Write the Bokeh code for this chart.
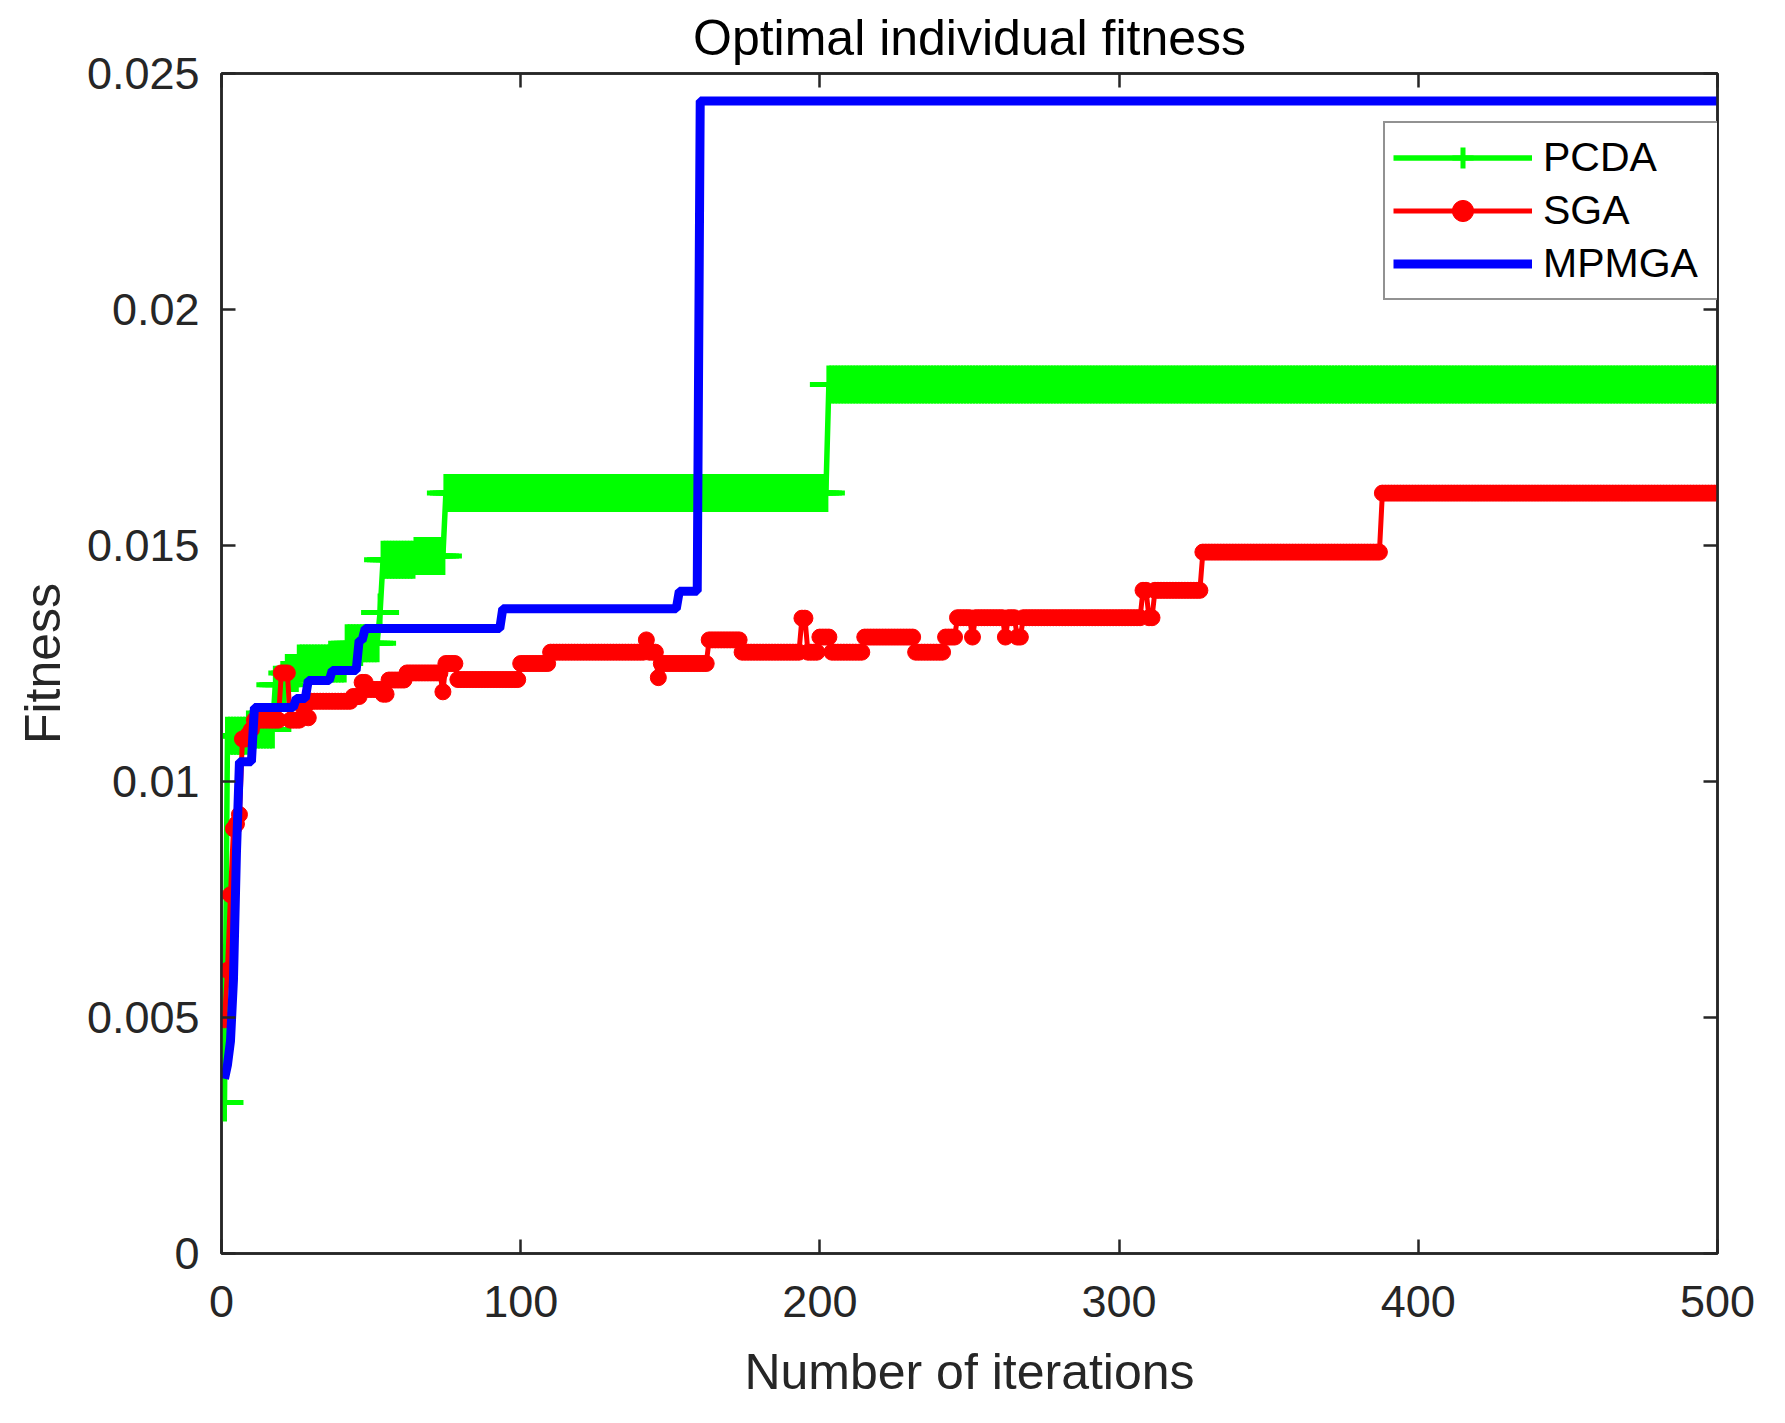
import numpy as np
from bokeh.plotting import figure
from bokeh.models import (Range1d, LinearAxis, FixedTicker, CustomJSTickFormatter,
                          Legend, LegendItem)
from bokeh.embed import file_html
from bokeh.resources import INLINE

# ---------------- data ----------------
n_iter = 500
x_ticks = [0, 100, 200, 300, 400, 500]
y_ticks = [0, 0.005, 0.01, 0.015, 0.02, 0.025]

# best-so-far fitness per iteration, given as step change points
pcda_start = [1, 2, 9, 18, 22, 26, 42, 53, 54, 65, 75, 203]
pcda_value = [0.0032, 0.01097, 0.0111, 0.01205, 0.0123, 0.0125, 0.01293,
              0.01358, 0.0147, 0.01478, 0.01611, 0.01841]

sga_start = [1, 2, 3, 4, 5, 6, 7, 9, 10, 11, 20, 23, 27, 29, 30, 44, 47, 49,
             54, 56, 62, 74, 75, 79, 100, 110, 142, 143, 146, 147, 163, 174,
             194, 196, 200, 204, 215, 232, 242, 246, 251, 252, 262, 263, 266,
             268, 308, 310, 312, 328, 388]
sga_value = [0.00495, 0.0060, 0.0076, 0.0090, 0.0091, 0.0093, 0.0109, 0.0110,
             0.0111, 0.0113, 0.0123, 0.0113, 0.0116, 0.01135, 0.0117, 0.0118,
             0.0121, 0.01195, 0.01185, 0.01215, 0.0123, 0.0119, 0.0125, 0.01216,
             0.0125, 0.01274, 0.0130, 0.01274, 0.0122, 0.0125, 0.0130, 0.01274,
             0.01346, 0.01274, 0.01306, 0.01274, 0.01306, 0.01274, 0.01306,
             0.01347, 0.01306, 0.01347, 0.01306, 0.01347, 0.01306, 0.01347,
             0.01405, 0.01347, 0.01405, 0.01486, 0.01611]

mpmga_start = [1, 2, 3, 4, 5, 6, 11, 25, 29, 37, 46, 48, 94, 153, 160]
mpmga_value = [0.0037, 0.0040, 0.0045, 0.0058, 0.0085, 0.01042, 0.01157,
               0.01176, 0.01214, 0.01235, 0.01299, 0.01324, 0.01366, 0.01403,
               0.02442]


def expand(starts, values, n):
    bounds = list(starts) + [n + 1]
    out = []
    for s, e, v in zip(bounds[:-1], bounds[1:], values):
        out.extend([v] * (e - s))
    return out


iters = list(range(1, n_iter + 1))
pcda = expand(pcda_start, pcda_value, n_iter)
sga = expand(sga_start, sga_value, n_iter)
mpmga = expand(mpmga_start, mpmga_value, n_iter)

# ---------------- figure ----------------
AX = "#262626"
FONT = "Liberation Sans"

p = figure(width=1769, height=1407, output_backend="svg", toolbar_location=None,
           x_range=Range1d(0, 500), y_range=Range1d(0, 0.025),
           min_border_left=221, min_border_right=52, min_border_top=73,
           min_border_bottom=154)
p.background_fill_color = "white"
p.border_fill_color = "white"
p.outline_line_color = AX
p.outline_line_width = 2.5
p.xgrid.visible = False
p.ygrid.visible = False

p.title.text = "Optimal individual fitness"
p.title.align = "center"
p.title.text_font = FONT
p.title.text_font_size = "50px"
p.title.text_font_style = "normal"
p.title.text_color = "black"
p.title.standoff = 15

fmt = CustomJSTickFormatter(code="""
    var s = tick.toFixed(3);
    s = s.replace(/0+$/, '').replace(/\\.$/, '');
    return s;
""")
blank = CustomJSTickFormatter(code="return '';")

def style_axis(ax):
    ax.axis_line_color = AX
    ax.axis_line_width = 2.5
    ax.major_tick_line_color = AX
    ax.major_tick_line_width = 2.5
    ax.major_tick_in = 14
    ax.major_tick_out = 0
    ax.minor_tick_line_color = None
    ax.major_label_text_font = FONT
    ax.major_label_text_font_size = "45px"
    ax.major_label_text_color = AX
    ax.axis_label_text_font = FONT
    ax.axis_label_text_font_size = "50px"
    ax.axis_label_text_font_style = "normal"
    ax.axis_label_text_color = AX

xa = p.xaxis[0]
ya = p.yaxis[0]
xa.ticker = FixedTicker(ticks=x_ticks)
ya.ticker = FixedTicker(ticks=y_ticks)
ya.formatter = fmt
style_axis(xa)
style_axis(ya)
xa.axis_label = "Number of iterations"
ya.axis_label = "Fitness"
xa.major_label_standoff = 32
ya.major_label_standoff = 22
xa.axis_label_standoff = 24
ya.axis_label_standoff = 13

ra = LinearAxis(ticker=FixedTicker(ticks=y_ticks), formatter=blank)
ta = LinearAxis(ticker=FixedTicker(ticks=x_ticks), formatter=blank)
style_axis(ra)
style_axis(ta)
ra.major_label_standoff = 0
ta.major_label_standoff = 0
p.add_layout(ra, "right")
p.add_layout(ta, "above")

# ---------------- series ----------------
g_line = p.line(iters, pcda, line_color="#00FF00", line_width=5.5)
g_mark = p.scatter(iters, pcda, marker="cross", size=38, line_color="#00FF00",
                   line_width=5)
r_line = p.line(iters, sga, line_color="#FF0000", line_width=5)
r_mark = p.scatter(iters, sga, marker="circle", size=16, fill_color="#FF0000",
                   line_color="#FF0000", line_width=1)
b_line = p.line(iters, mpmga, line_color="#0000FF", line_width=9)

legend = Legend(items=[
    LegendItem(label="PCDA", renderers=[g_line, g_mark]),
    LegendItem(label="SGA", renderers=[r_line, r_mark]),
    LegendItem(label="MPMGA", renderers=[b_line]),
])
legend.location = (1162, 953)
legend.padding = 8
legend.spacing = 0
legend.margin = 0
legend.glyph_width = 139
legend.glyph_height = 53
legend.label_height = 53
legend.label_width = 168
legend.label_standoff = 11
legend.label_text_font = FONT
legend.label_text_font_size = "41px"
legend.label_text_color = "black"
legend.border_line_color = AX
legend.border_line_width = 2.5
legend.background_fill_color = "white"
legend.background_fill_alpha = 1.0
p.add_layout(legend, "center")

open("out.html", "w").write(file_html(p, INLINE))
